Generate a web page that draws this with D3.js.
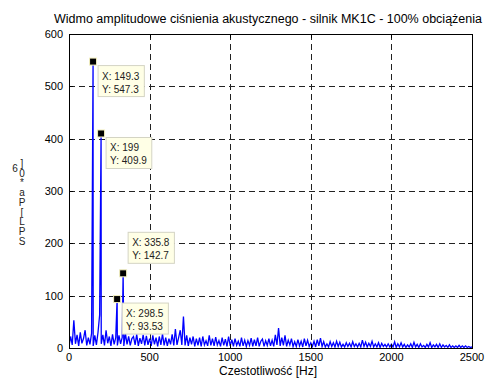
<!DOCTYPE html>
<html>
<head>
<meta charset="utf-8">
<script src="https://cdn.jsdelivr.net/npm/d3@7"></script>
<style>
  body { margin: 0; background: #fff; }
  svg { font-family: "Liberation Sans", Arial, sans-serif; }
</style>
</head>
<body>
<div id="chart"></div>
<script>
// Spectrum noise floor, one value every 10 Hz from 0 to 2500 Hz
const noiseStep = 10;
const noiseValues = [
  3, 22, 6, 53, 8, 25, 4, 30, 9, 18,
  34, 5, 20, 7, 28, 4, 24, 6, 30, 63,
  8, 25, 5, 34, 9, 22, 4, 26, 7, 20,
  5, 24, 8, 20, 4, 28, 7, 22, 5, 18,
  22, 6, 26, 4, 19, 8, 25, 5, 23, 6,
  18, 4, 24, 7, 20, 3, 22, 6, 27, 5,
  20, 4, 18, 7, 26, 5, 36, 6, 20, 34,
  6, 60, 5, 24, 4, 20, 7, 22, 3, 18,
  5, 20, 3, 22, 6, 14, 4, 24, 5, 18,
  4, 21, 6, 14, 3, 20, 5, 17, 3, 22,
  4, 16, 3, 18, 5, 13, 3, 20, 4, 15,
  3, 14, 5, 19, 3, 16, 4, 20, 3, 13,
  17, 3, 14, 5, 18, 4, 15, 3, 25, 6,
  38, 4, 20, 5, 24, 3, 15, 6, 18, 3,
  12, 3, 16, 4, 13, 2, 18, 4, 15, 3,
  10, 3, 13, 2, 16, 4, 19, 3, 12, 2,
  8, 2, 12, 3, 10, 2, 13, 3, 11, 2,
  7, 2, 10, 3, 9, 2, 12, 3, 8, 2,
  9, 2, 15, 3, 11, 2, 9, 3, 13, 2,
  8, 2, 10, 1, 9, 3, 7, 2, 8, 2,
  7, 2, 12, 1, 8, 2, 10, 2, 7, 1,
  6, 2, 8, 1, 11, 2, 7, 1, 8, 2,
  5, 1, 7, 2, 10, 1, 6, 2, 7, 1,
  8, 1, 6, 2, 5, 1, 6, 1, 4, 1,
  4, 1, 5, 1, 4, 1, 4, 1, 3, 1,
  2
];

// Marked peaks (data tips)
const peakFreqs = [149.3, 199, 298.5, 335.8];
const peakAmps = [547.3, 409.9, 93.53, 142.7];
const peakLabelsX = ["149.3", "199", "298.5", "335.8"];
const peakLabelsY = ["547.3", "409.9", "93.53", "142.7"];
const peakTipAbove = [false, false, false, true];

const xTicks = [0, 500, 1000, 1500, 2000, 2500];
const yTicks = [0, 100, 200, 300, 400, 500, 600];

const titleText = "Widmo amplitudowe ciśnienia akustycznego - silnik MK1C - 100% obciążenia";
const xLabelText = "Czestotliwość [Hz]";
// garbled y label, read top to bottom as upright glyphs
const yLabelText = "]0*aP[LPS";
const yLabelExtra = "6";

// Dimensions
const W = 497, H = 378;
const margin = { top: 34, right: 25, bottom: 30, left: 69 };
const width = W - margin.left - margin.right;
const height = H - margin.top - margin.bottom;

const svg = d3.select("#chart").append("svg")
    .attr("width", W)
    .attr("height", H);

const g = svg.append("g")
    .attr("transform", `translate(${margin.left},${margin.top})`);

const x = d3.scaleLinear().domain([0, 2500]).range([0, width]);
const y = d3.scaleLinear().domain([0, 600]).range([height, 0]);

// Build the series: noise floor plus peaks, sorted by frequency
let series = noiseValues.map((v, i) => ({ f: i * noiseStep, a: v }));
peakFreqs.forEach((f, i) => series.push({ f: f, a: peakAmps[i] }));
series.sort((a, b) => a.f - b.f);

// Grid
g.selectAll(".vgrid")
    .data(xTicks.slice(1, -1))
    .enter().append("line")
    .attr("x1", d => Math.round(x(d)) + 0.5)
    .attr("x2", d => Math.round(x(d)) + 0.5)
    .attr("y1", 0).attr("y2", height)
    .attr("stroke", "#222")
    .attr("stroke-dasharray", "6,4");

g.selectAll(".hgrid")
    .data(yTicks.slice(1, -1))
    .enter().append("line")
    .attr("y1", d => Math.round(y(d)) + 0.5)
    .attr("y2", d => Math.round(y(d)) + 0.5)
    .attr("x1", 0).attr("x2", width)
    .attr("stroke", "#222")
    .attr("stroke-dasharray", "6,4");

// Clip
svg.append("defs").append("clipPath").attr("id", "clip")
    .append("rect").attr("width", width).attr("height", height + 1);

const line = d3.line()
    .x(d => x(d.f))
    .y(d => y(d.a));

g.append("path")
    .datum(series)
    .attr("clip-path", "url(#clip)")
    .attr("d", line)
    .attr("fill", "none")
    .attr("stroke", "#0000ff")
    .attr("stroke-width", 1.3);

// Axes box
g.append("rect")
    .attr("x", 0.5).attr("y", 0.5)
    .attr("width", width).attr("height", height)
    .attr("fill", "none")
    .attr("stroke", "#000")
    .attr("stroke-width", 1);

// Inner ticks on all sides
const tl = 4;
xTicks.forEach(t => {
    const px = Math.round(x(t)) + 0.5;
    g.append("line").attr("x1", px).attr("x2", px).attr("y1", height).attr("y2", height - tl).attr("stroke", "#000");
    g.append("line").attr("x1", px).attr("x2", px).attr("y1", 0).attr("y2", tl).attr("stroke", "#000");
});
yTicks.forEach(t => {
    const py = Math.round(y(t)) + 0.5;
    g.append("line").attr("y1", py).attr("y2", py).attr("x1", 0).attr("x2", tl).attr("stroke", "#000");
    g.append("line").attr("y1", py).attr("y2", py).attr("x1", width).attr("x2", width - tl).attr("stroke", "#000");
});

// Tick labels
g.selectAll(".xtl")
    .data(xTicks)
    .enter().append("text")
    .attr("x", d => x(d))
    .attr("y", height + 13)
    .attr("text-anchor", "middle")
    .style("font-size", "11px")
    .text(d => d);

g.selectAll(".ytl")
    .data(yTicks)
    .enter().append("text")
    .attr("x", -6)
    .attr("y", d => y(d) + 4)
    .attr("text-anchor", "end")
    .style("font-size", "11px")
    .text(d => d);

// Title and axis labels
svg.append("text")
    .attr("x", 268)
    .attr("y", 23)
    .attr("text-anchor", "middle")
    .style("font-size", "12.5px")
    .text(titleText);

svg.append("text")
    .attr("x", 268)
    .attr("y", 375)
    .attr("text-anchor", "middle")
    .style("font-size", "12px")
    .text(xLabelText);

// y label: upright glyphs stacked in one vertical text
svg.append("text")
    .attr("x", 22)
    .attr("y", 158)
    .style("font-size", "10px")
    .style("writing-mode", "vertical-rl")
    .style("text-orientation", "upright")
    .style("letter-spacing", "-1.3px")
    .style("fill", "#222")
    .text(yLabelText);

svg.append("text")
    .attr("x", 15).attr("y", 172)
    .attr("text-anchor", "middle")
    .style("font-size", "10px")
    .style("fill", "#222")
    .text(yLabelExtra);

// Data tips
peakFreqs.forEach((f, i) => {
    const cx = x(f), cy = y(peakAmps[i]);
    const tip = g.append("g");
    const t1 = "X: " + peakLabelsX[i];
    const t2 = "Y: " + peakLabelsY[i];
    const bx = cx + 5;
    const bh = 31;
    const by = peakTipAbove[i] ? cy - 10 - bh : cy + 4;
    const rect = tip.append("rect")
        .attr("x", bx).attr("y", by)
        .attr("height", bh)
        .attr("fill", "#ffffe6")
        .attr("stroke", "#d4d4c4")
        .attr("stroke-width", 1);
    const a = tip.append("text").attr("x", bx + 4).attr("y", by + 14)
        .style("font-size", "10px").style("fill", "#222").text(t1);
    const b = tip.append("text").attr("x", bx + 4).attr("y", by + 27)
        .style("font-size", "10px").style("fill", "#222").text(t2);
    const w = Math.max(a.node().getComputedTextLength(), b.node().getComputedTextLength()) + 9;
    rect.attr("width", w);

    g.append("rect")
        .attr("x", cx - 3.5).attr("y", cy - 3.5)
        .attr("width", 7).attr("height", 7)
        .attr("fill", "#000")
        .attr("stroke", "#f4f0c0")
        .attr("stroke-width", 1);
});
</script>
</body>
</html>
